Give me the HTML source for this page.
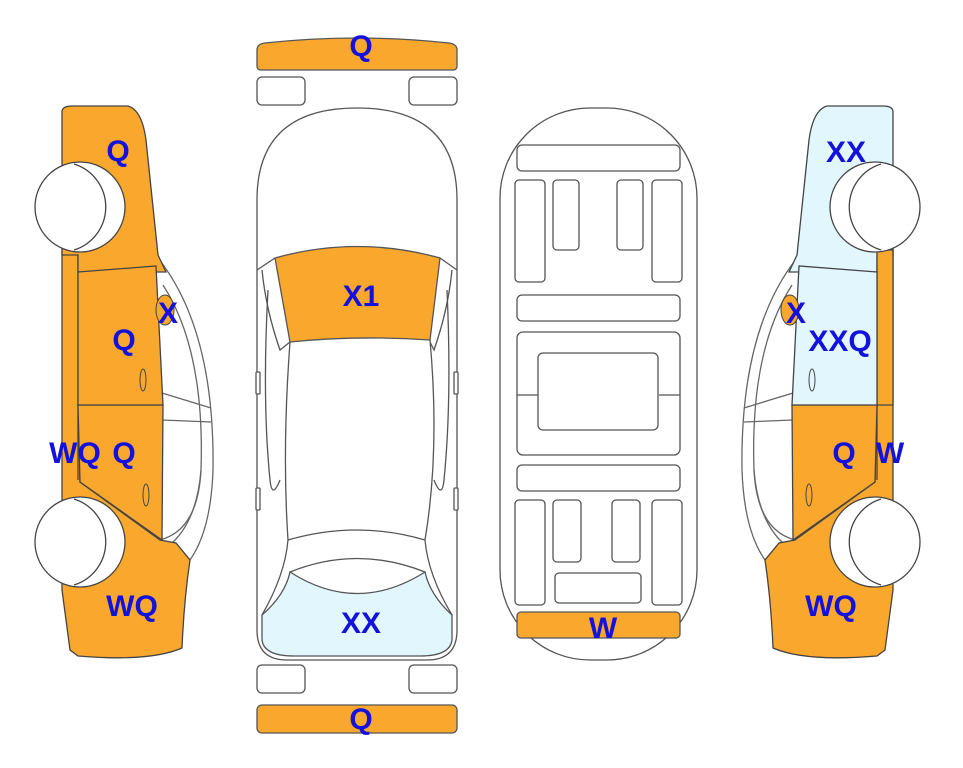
<!DOCTYPE html>
<html><head><meta charset="utf-8"><style>
html,body{margin:0;padding:0;background:#fff;}
svg{display:block}
text{font-family:"Liberation Sans",Arial,sans-serif;font-weight:bold;font-size:30px;fill:#1212dc;text-anchor:middle}
</style></head><body>
<svg width="963" height="768" viewBox="0 0 963 768" xmlns="http://www.w3.org/2000/svg">
<defs>
<g id="carbase" stroke="#444" stroke-width="1.3">
  <path d="M158,258 Q215,330 213,470 Q211,530 190,560" fill="#fff" stroke="#666"/>
  <path d="M163,285 Q205,350 201,470 Q197,520 172,543" fill="none" stroke="#666"/>
  <path d="M162,393 L211,408 M162,420 L211,422" fill="none" stroke="#666"/>
  <path d="M201,470 Q198,530 160,540" fill="none" stroke="#666"/>
  <path d="M62,250 L78,250 L80,482 L160,540 L176,543 L190,560 Q184,600 182,648 Q150,662 78,656 L70,650 L62,590 Z" fill="#F9A82D"/>
  <path d="M78,250 L78,480" fill="none"/>
  <path d="M78,405 L163,405 L162,540 L80,482 Z" fill="#F9A82D"/>
</g>
<g id="wheels" stroke="#444" stroke-width="1.3">
  <circle cx="80" cy="207" r="45" fill="#fff"/>
  <path d="M66,164 A45,45 0 0 1 66,250" fill="none" transform="translate(8,0)"/>
  <circle cx="80" cy="542" r="45" fill="#fff"/>
  <path d="M66,499 A45,45 0 0 1 66,585" fill="none" transform="translate(8,0)"/>
</g>
</defs>

<g>
  <use href="#carbase"/>
  <path d="M62,112 Q62,106 72,106 L128,106 Q142,110 146,140 L158,255 L166,272 L78,272 L78,255 L62,255 Z" fill="#F9A82D" stroke="#444" stroke-width="1.3"/>
  <path d="M78,272 L156,266 L163,405 L78,405 Z" fill="#F9A82D" stroke="#444" stroke-width="1.3"/>
  <ellipse cx="165" cy="310" rx="9" ry="15" fill="#F9A82D" stroke="#444"/>
  <ellipse cx="143" cy="380" rx="3" ry="11" fill="none" stroke="#444"/>
  <ellipse cx="146" cy="495" rx="3" ry="11" fill="none" stroke="#444"/>
  <use href="#wheels"/>
</g>

<g transform="translate(955,0) scale(-1,1)">
  <use href="#carbase"/>
  <path d="M62,112 Q62,106 72,106 L128,106 Q142,110 146,140 L158,255 L166,272 L78,272 L78,255 L62,255 Z" fill="#E1F6FD" stroke="#444" stroke-width="1.3"/>
  <path d="M62,250 L78,250 L78,405 L62,405 Z" fill="#F9A82D" stroke="#444" stroke-width="1.3"/>
  <path d="M78,272 L156,266 L163,405 L78,405 Z" fill="#E1F6FD" stroke="#444" stroke-width="1.3"/>
  <ellipse cx="165" cy="310" rx="9" ry="15" fill="#F9A82D" stroke="#444"/>
  <ellipse cx="143" cy="380" rx="3" ry="11" fill="none" stroke="#444"/>
  <ellipse cx="146" cy="495" rx="3" ry="11" fill="none" stroke="#444"/>
  <use href="#wheels"/>
</g>

<g stroke="#555" stroke-width="1.3" fill="#fff">
  <path d="M257,50 Q257,44 265,43 Q357,33 449,43 Q457,44 457,50 L457,66 Q457,70 453,70 L261,70 Q257,70 257,66 Z" fill="#F9A82D"/>
  <rect x="257" y="77" width="48" height="28" rx="5"/>
  <rect x="409" y="77" width="48" height="28" rx="5"/>
  <path d="M257,630 L257,200 Q257,108 357,108 Q457,108 457,200 L457,630 Q457,660 427,660 L287,660 Q257,660 257,630 Z"/>
  <path d="M262,615 Q285,595 290,572 Q357,615 425,572 Q430,595 452,615 L452,640 Q450,656 420,656 L294,656 Q264,656 262,640 Z" fill="#E1F6FD"/>
  <path d="M275,258 Q357,235 440,258 L430,340 Q357,335 290,342 Z" fill="#F9A82D"/>
  <path d="M257,270 L275,258 M457,270 L440,258 M262,270 Q266,310 280,350 L290,342 M452,270 Q448,310 434,350 L430,342" fill="none"/>
  <path d="M290,342 Q282,450 288,540 Q285,575 262,615 M430,340 Q440,450 425,540 Q428,575 452,615" fill="none"/>
  <path d="M288,540 Q357,520 425,540 M290,572 Q357,545 425,572" fill="none"/>
  <path d="M268,290 Q262,400 270,480 Q272,500 280,480 M447,290 Q452,400 444,480 Q442,500 434,480" fill="none"/>
  <rect x="256" y="372" width="4" height="22" rx="1"/>
  <rect x="454" y="372" width="4" height="22" rx="1"/>
  <rect x="256" y="488" width="4" height="22" rx="1"/>
  <rect x="454" y="488" width="4" height="22" rx="1"/>
  <rect x="257" y="665" width="48" height="28" rx="5"/>
  <rect x="409" y="665" width="48" height="28" rx="5"/>
  <rect x="257" y="705" width="200" height="28" rx="5" fill="#F9A82D"/>
</g>

<g stroke="#555" stroke-width="1.3" fill="#fff">
  <rect x="500" y="108" width="197" height="552" rx="90"/>
  <rect x="517" y="145" width="163" height="26" rx="5"/>
  <rect x="515" y="180" width="30" height="102" rx="4"/>
  <rect x="553" y="180" width="26" height="70" rx="4"/>
  <rect x="617" y="180" width="26" height="70" rx="4"/>
  <rect x="652" y="180" width="30" height="102" rx="4"/>
  <rect x="517" y="295" width="163" height="26" rx="5"/>
  <rect x="517" y="332" width="163" height="123" rx="6"/>
  <path d="M517,395 L538,395 M659,395 L680,395" fill="none"/>
  <rect x="538" y="353" width="120" height="77" rx="5"/>
  <rect x="517" y="465" width="163" height="26" rx="5"/>
  <rect x="515" y="500" width="30" height="105" rx="4"/>
  <rect x="553" y="500" width="28" height="62" rx="4"/>
  <rect x="612" y="500" width="28" height="62" rx="4"/>
  <rect x="652" y="500" width="30" height="105" rx="4"/>
  <rect x="555" y="573" width="86" height="30" rx="4"/>
  <rect x="517" y="612" width="163" height="26" rx="4" fill="#F9A82D"/>
</g>

<text x="361" y="56">Q</text>
<text x="361" y="306">X1</text>
<text x="361" y="633">XX</text>
<text x="361" y="729">Q</text>
<text x="603" y="638">W</text>
<text x="118" y="161">Q</text>
<text x="168" y="323">X</text>
<text x="124" y="350">Q</text>
<text x="75" y="463">WQ</text>
<text x="124" y="463">Q</text>
<text x="132" y="616">WQ</text>
<text x="846" y="162">XX</text>
<text x="796" y="323">X</text>
<text x="840" y="351">XXQ</text>
<text x="844" y="463">Q</text>
<text x="890" y="463">W</text>
<text x="831" y="616">WQ</text>
</svg>
</body></html>
